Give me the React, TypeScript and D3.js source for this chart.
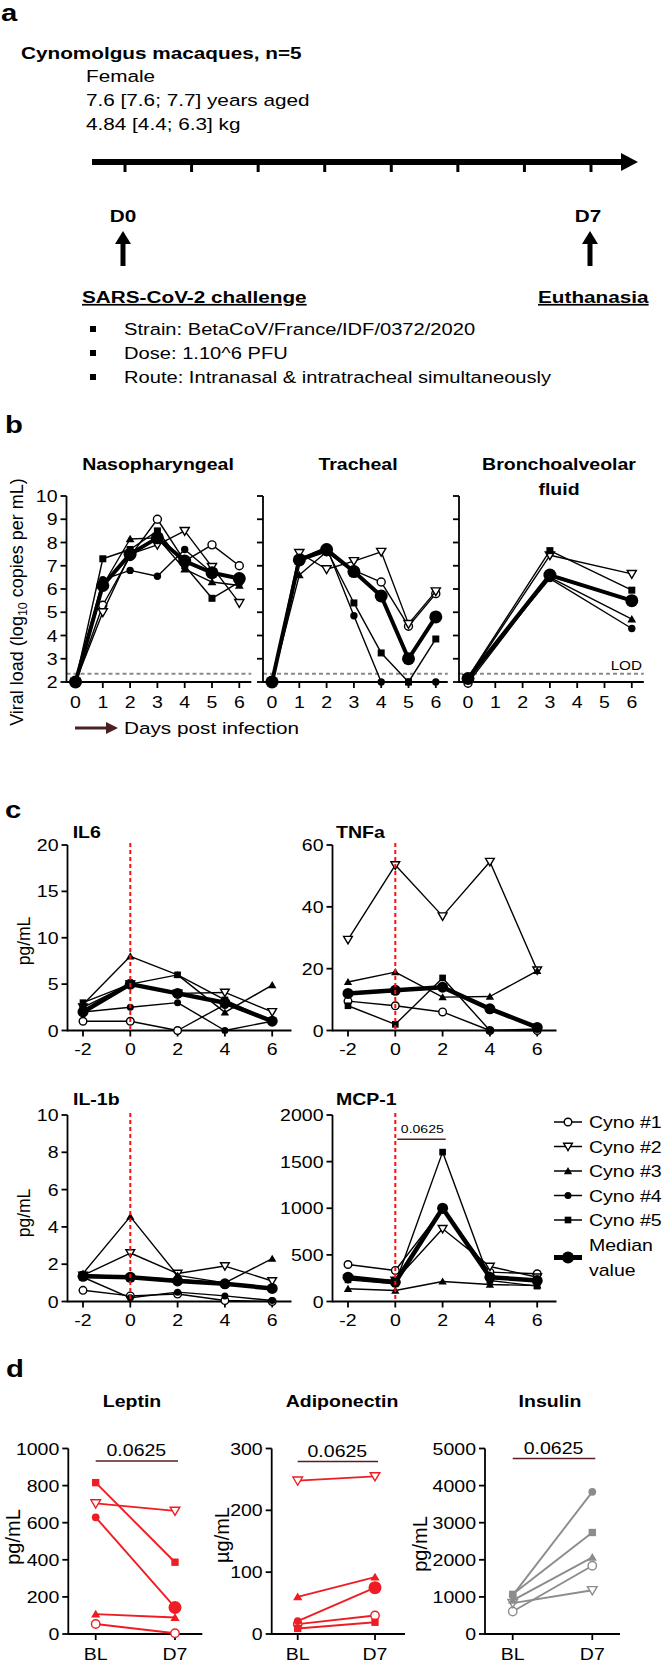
import React from 'react';
import * as d3 from 'd3';

const SX = 1.22;
const FF = "'Liberation Sans', Arial, Helvetica, sans-serif";
const RED = '#ee1d23';
const GRAY = '#8c8c8c';
const SIG = '#5a1e1e';

// ---------- Panel a ----------
const aTitle = 'Cynomolgus macaques, n=5';
const aInfo = ['Female', '7.6 [7.6; 7.7] years aged', '4.84 [4.4; 6.3] kg'];
const aTimelineDays = [0, 1, 2, 3, 4, 5, 6, 7];
const aBullets = ['Strain: BetaCoV/France/IDF/0372/2020', 'Dose: 1.10^6 PFU', 'Route: Intranasal & intratracheal simultaneously'];

// ---------- Panel b (viral load, log10 copies/mL) ----------
const vlDays = [0, 1, 2, 3, 4, 5, 6];
const balDays = [0, 3, 6];
const vlTicks = [2, 3, 4, 5, 6, 7, 8, 9, 10];
const nasoC1 = [2, 5.3, 7.4, 9.0, 7.2, 7.9, 7.0];
const nasoC2 = [2, 5.0, 7.5, 7.9, 8.5, 6.95, 5.4];
const nasoC3 = [2, 6.15, 8.15, 8.2, 6.85, 6.3, 6.15];
const nasoC4 = [2, 6.4, 6.8, 6.55, 7.7, 6.7, 6.45];
const nasoC5 = [2, 7.3, 7.7, 8.5, 7.0, 5.6, 6.3];
const nasoMed = [2, 6.15, 7.5, 8.2, 7.2, 6.7, 6.45];
const trC1 = [2, 7.2, 7.6, 6.8, 6.3, 4.4, 5.8];
const trC2 = [2, 7.55, 6.85, 7.2, 7.6, 4.5, 5.9];
const trC3 = [2, 6.6, 7.6, 6.7, 5.7, 3.0, 4.8];
const trC4 = [2, 7.3, 7.8, 4.85, 2, 2, 2];
const trC5 = [2, 7.2, 7.7, 5.4, 3.25, 2, 3.85];
const trMed = [2, 7.25, 7.7, 6.75, 5.7, 3.0, 4.8];
const balC1 = [1.95, 6.55, 5.5];
const balC2 = [2.15, 7.45, 6.65];
const balC3 = [2.15, 6.5, 4.7];
const balC4 = [2.2, 6.45, 4.3];
const balC5 = [2.2, 7.65, 5.95];
const balMed = [2.15, 6.6, 5.5];
const lodValue = 2.35;

// ---------- Panel c (cytokines, pg/mL) ----------
const cDays = [-2, 0, 2, 4, 6];
const il6C1 = [1, 1, 0, 2.8, 1];
const il6C2 = [2.5, 5, 4, 4.1, 2];
const il6C3 = [2.8, 8, 6, 1.95, 4.9];
const il6C4 = [2, 2.5, 3, 0, 1];
const il6C5 = [3, 5, 6, 3.3, 1];
const il6Med = [2, 5, 4, 3, 1];
const tnfC1 = [9.5, 8, 6, 0, 0];
const tnfC2 = [29.4, 53.5, 37, 54.6, 19.5];
const tnfC3 = [15.7, 18.9, 10.8, 11, 19.3];
const tnfC4 = [12, 13, 14, 7, 1];
const tnfC5 = [8, 2, 17, 0, 0.5];
const tnfMed = [12, 13, 14, 7, 1];
const il1C1 = [0.6, 0.3, 0.4, 0.05, 0];
const il1C2 = [1.4, 2.6, 1.5, 1.9, 1.1];
const il1C3 = [1.5, 4.55, 1.4, 1.0, 2.3];
const il1C4 = [1.3, 0.2, 0.5, 0.3, 0.05];
const il1C5 = [1.45, 1.3, 1.2, 0.95, 0.7];
const il1Med = [1.35, 1.3, 1.1, 0.95, 0.7];
const mcpC1 = [397, 333, 990, 315, 297];
const mcpC2 = [245, 225, 780, 375, 260];
const mcpC3 = [136, 118, 215, 182, 172];
const mcpC4 = [261, 207, 1010, 261, 225];
const mcpC5 = [232, 190, 1602, 225, 165];
const mcpMed = [261, 207, 1000, 261, 225];
const legendLabels = ['Cyno #1', 'Cyno #2', 'Cyno #3', 'Cyno #4', 'Cyno #5'];

// ---------- Panel d (BL vs D7) ----------
const dGroups = ['BL', 'D7'];
const lepC1 = [54, 4];
const lepC2 = [704, 664];
const lepC3 = [107, 89];
const lepC4 = [629, 143];
const lepC5 = [816, 387];
const adiC1 = [16, 30];
const adiC2 = [248, 255];
const adiC3 = [60, 92];
const adiC4 = [21, 75];
const adiC5 = [9, 19];
const insC1 = [607, 1839];
const insC2 = [833, 1178];
const insC3 = [906, 2066];
const insC4 = [1042, 3832];
const insC5 = [1069, 2736];
const pValue = '0.0625';

const syms = ['o', 'v', '^', '.', 's'];

function T({ x, y, s = 16, b = false, a = 'start', fill = '#000', u = false, children }: any) {
  return (
    <text transform={`translate(${x},${y}) scale(${SX},1)`} fontSize={s} fontWeight={b ? 700 : 400}
      textAnchor={a} fill={fill} style={u ? { textDecoration: 'underline' } : undefined}>{children}</text>
  );
}

function RT({ cx, cy, s = 18, children }: any) {
  return (
    <text transform={`translate(${cx + s * 0.33},${cy}) rotate(-90)`} fontSize={s} textAnchor="middle">{children}</text>
  );
}

function Mk({ t, x, y, k = 1, c = '#000', rM = 6.5 }: any) {
  const sw = 1.4;
  switch (t) {
    case 'o': return <circle cx={x} cy={y} r={4 * k} fill="#fff" stroke={c} strokeWidth={sw} />;
    case 'v': { const a = 4.6 * k; return <path d={`M${x - a},${y - a * 0.75}H${x + a}L${x},${y + a * 0.95}Z`} fill="#fff" stroke={c} strokeWidth={sw} />; }
    case '^': { const a = 4.4 * k; return <path d={`M${x - a},${y + a * 0.75}H${x + a}L${x},${y - a * 0.95}Z`} fill={c} />; }
    case '.': return <circle cx={x} cy={y} r={3.7 * k} fill={c} />;
    case 's': { const a = 3.5 * k; return <rect x={x - a} y={y - a} width={2 * a} height={2 * a} fill={c} />; }
    case 'M': return <circle cx={x} cy={y} r={rM} fill={c} />;
  }
  return null;
}

function Lines({ xs, sets, xS, yS, k = 1, rM = 6.5, lw = 1.4, lwM = 4, color = '#000', bigLast = 0 }: any) {
  const line = d3.line<number>().x((_: number, i: number) => xS(xs[i])).y((v: number) => yS(v));
  return (
    <g>
      {sets.map((vals: number[], j: number) => {
        const sym = j < 5 ? syms[j] : 'M';
        return (
          <g key={j}>
            <path d={line(vals) || ''} fill="none" stroke={color} strokeWidth={sym === 'M' ? lwM : lw} strokeLinejoin="round" />
            {vals.map((v, i) => (bigLast && sym === '.' && i === vals.length - 1)
              ? <Mk key={i} t="M" x={xS(xs[i])} y={yS(v)} c={color} rM={bigLast} />
              : <Mk key={i} t={sym} x={xS(xs[i])} y={yS(v)} k={k} c={color} rM={rM} />)}
          </g>
        );
      })}
    </g>
  );
}

function Axes({ ax, y0, yTop, xEnd, yS, yTicks, showY = true, xS, xTicks, xLabels, xlY, fs = 16 }: any) {
  return (
    <g>
      <g stroke="#000" strokeWidth={1.8}>
        <line x1={ax} x2={ax} y1={yTop} y2={y0 + 0.9} />
        <line x1={ax} x2={xEnd} y1={y0} y2={y0} />
        {yTicks.map((t: number) => <line key={t} x1={ax - 6} x2={ax} y1={yS(t)} y2={yS(t)} />)}
        {xTicks.map((t: any, i: number) => <line key={i} x1={xS(t)} x2={xS(t)} y1={y0} y2={y0 + 6} />)}
      </g>
      {showY && yTicks.map((t: number) => <T key={t} x={ax - 9} y={yS(t) + 6} s={fs} a="end">{t}</T>)}
      {xTicks.map((t: any, i: number) => <T key={i} x={xS(t)} y={xlY} s={fs} a="middle">{xLabels[i]}</T>)}
    </g>
  );
}

function PanelA() {
  const tx = d3.scaleLinear().domain([0, 7]).range([125, 591]);
  const ay = 162;
  const up = (x: number) => (
    <g>
      <line x1={x} x2={x} y1={242} y2={266} stroke="#000" strokeWidth={5} />
      <path d={`M${x - 8},${244}L${x},${231}L${x + 8},${244}Z`} fill="#000" />
    </g>
  );
  return (
    <g>
      <T x={1} y={21} s={24} b>a</T>
      <T x={21} y={59} s={17} b>{aTitle}</T>
      {aInfo.map((t, i) => <T key={i} x={86} y={82 + i * 24} s={17}>{t}</T>)}
      <line x1={92} x2={624} y1={ay} y2={ay} stroke="#000" strokeWidth={6} />
      <path d={`M621,${ay - 9}L638,${ay}L621,${ay + 9}Z`} fill="#000" />
      {aTimelineDays.map((d) => <line key={d} x1={tx(d)} x2={tx(d)} y1={ay} y2={ay + 10} stroke="#000" strokeWidth={3} />)}
      <T x={tx(0) - 2} y={222} s={17} b a="middle">D0</T>
      <T x={tx(7) - 3} y={222} s={17} b a="middle">D7</T>
      {up(tx(0) - 2)}
      {up(tx(7) - 1)}
      <T x={82} y={303} s={17} b u>SARS-CoV-2 challenge</T>
      <T x={538} y={303} s={17} b u>Euthanasia</T>
      {aBullets.map((t, i) => (
        <g key={i}>
          <rect x={90} y={335 + i * 24 - 9} width={6} height={6} fill="#000" />
          <T x={124} y={335 + i * 24} s={16.5}>{t}</T>
        </g>
      ))}
    </g>
  );
}

function PanelB() {
  const yS = d3.scaleLinear().domain([2, 10]).range([682, 496]);
  const charts = [
    { title: ['Nasopharyngeal'], tx: 158, ax: 66.5, x0: 75.5, xs: vlDays, sets: [nasoC1, nasoC2, nasoC3, nasoC4, nasoC5, nasoMed], showY: true },
    { title: ['Tracheal'], tx: 358, ax: 263, x0: 272, xs: vlDays, sets: [trC1, trC2, trC3, trC4, trC5, trMed], showY: false },
    { title: ['Bronchoalveolar', 'fluid'], tx: 559, ax: 459, x0: 468, xs: balDays, sets: [balC1, balC2, balC3, balC4, balC5, balMed], showY: false },
  ];
  return (
    <g>
      <T x={5} y={433} s={24} b>b</T>
      <text transform={`translate(${17 + 6},602) rotate(-90)`} fontSize={18} textAnchor="middle">
        Viral load (log<tspan fontSize={12.5} dy={4}>10</tspan><tspan dy={-4}> copies per mL)</tspan>
      </text>
      {charts.map((c, ci) => {
        const xS = d3.scaleLinear().domain([0, 6]).range([c.x0, c.x0 + 6 * 27.3]);
        const xEnd = xS(6) + 12;
        return (
          <g key={ci}>
            {c.title.map((t, i) => <T key={i} x={c.tx} y={470 + i * 25} s={16} b a="middle">{t}</T>)}
            <line x1={c.ax} x2={xEnd} y1={yS(lodValue)} y2={yS(lodValue)} stroke="#8a8a8a" strokeWidth={2} strokeDasharray="4,3" />
            <Axes ax={c.ax} y0={682} yTop={496} xEnd={xEnd} yS={yS} yTicks={vlTicks} showY={c.showY}
              xS={xS} xTicks={vlDays} xLabels={vlDays} xlY={708} fs={16} />
            <Lines xs={c.xs} sets={c.sets} xS={xS} yS={yS} k={1} rM={6.5} lw={1.4} lwM={4} />
          </g>
        );
      })}
      <T x={642} y={670} s={12.5} a="end">LOD</T>
      <line x1={75} x2={108} y1={728} y2={728} stroke="#4a2020" strokeWidth={3} />
      <path d="M106,722L118,728L106,734Z" fill="#4a2020" />
      <T x={124} y={734} s={17}>Days post infection</T>
    </g>
  );
}

function PanelC() {
  const charts = [
    { title: 'IL6', tX: 72.7, tY: 838, ax: 67.5, y0: 1030.5, yTop: 845, dom: [0, 20], ticks: [0, 5, 10, 15, 20], sets: [il6C1, il6C2, il6C3, il6C4, il6C5, il6Med], yl: 941 },
    { title: 'TNFa', tX: 336, tY: 838, ax: 332.5, y0: 1030.5, yTop: 845, dom: [0, 60], ticks: [0, 20, 40, 60], sets: [tnfC1, tnfC2, tnfC3, tnfC4, tnfC5, tnfMed], yl: 0 },
    { title: 'IL-1b', tX: 73, tY: 1105, ax: 67.5, y0: 1301.5, yTop: 1115, dom: [0, 10], ticks: [0, 2, 4, 6, 8, 10], sets: [il1C1, il1C2, il1C3, il1C4, il1C5, il1Med], yl: 1213 },
    { title: 'MCP-1', tX: 336, tY: 1105, ax: 332.5, y0: 1301.5, yTop: 1115, dom: [0, 2000], ticks: [0, 500, 1000, 1500, 2000], sets: [mcpC1, mcpC2, mcpC3, mcpC4, mcpC5, mcpMed], yl: 0 },
  ];
  return (
    <g>
      <T x={5} y={818} s={24} b>c</T>
      {charts.map((c, ci) => {
        const yS = d3.scaleLinear().domain(c.dom).range([c.y0, c.yTop]);
        const xS = d3.scaleLinear().domain([-2, 6]).range([c.ax + 15.5, c.ax + 15.5 + 4 * 47.3]);
        return (
          <g key={ci}>
            <T x={c.tX} y={c.tY} s={16} b>{c.title}</T>
            {c.yl ? <RT cx={24} cy={c.yl} s={17.5}>pg/mL</RT> : null}
            <Axes ax={c.ax} y0={c.y0} yTop={c.yTop} xEnd={c.ax + 224} yS={yS} yTicks={c.ticks}
              xS={xS} xTicks={cDays} xLabels={cDays} xlY={c.y0 + 24.5} fs={16} />
            <Lines xs={cDays} sets={c.sets} xS={xS} yS={yS} k={0.95} rM={5.5} lw={1.4} lwM={4.5} />
            <line x1={xS(0)} x2={xS(0)} y1={c.yTop - 2} y2={c.y0} stroke="#ff1010" strokeWidth={2} strokeDasharray="4,3" />
            {ci === 3 ? (
              <g>
                <line x1={397.3} x2={445.7} y1={1139.3} y2={1139.3} stroke={SIG} strokeWidth={1.5} />
                <T x={422.3} y={1133} s={11.5} a="middle">{pValue}</T>
              </g>
            ) : null}
          </g>
        );
      })}
      {legendLabels.map((l, i) => {
        const y = 1122 + i * 24.5;
        return (
          <g key={i}>
            <line x1={554} x2={582} y1={y} y2={y} stroke="#000" strokeWidth={1.5} />
            <Mk t={syms[i]} x={568} y={y} k={0.95} />
            <T x={589} y={y + 6} s={16}>{l}</T>
          </g>
        );
      })}
      <line x1={554} x2={582} y1={1257.5} y2={1257.5} stroke="#000" strokeWidth={5} />
      <Mk t="M" x={568} y={1257.5} rM={6} />
      <T x={589} y={1251} s={16}>Median</T>
      <T x={589} y={1276} s={16}>value</T>
    </g>
  );
}

function PanelD() {
  const y0 = 1634, yTop = 1448.5;
  const charts = [
    { title: 'Leptin', cx: 132, ax: 68.3, xs: [95.7, 175], xEnd: 202.3, dom: [0, 1000], ticks: [0, 200, 400, 600, 800, 1000], yl: 'pg/mL', ylx: 13.3, yly: 1537, color: RED, big: 6.5, sets: [lepC1, lepC2, lepC3, lepC4, lepC5], sigY: 1461 },
    { title: 'Adiponectin', cx: 342, ax: 271.7, xs: [297.7, 375], xEnd: 405, dom: [0, 300], ticks: [0, 100, 200, 300], yl: 'µg/mL', ylx: 222, yly: 1535, color: RED, big: 6.5, sets: [adiC1, adiC2, adiC3, adiC4, adiC5], sigY: 1461.5 },
    { title: 'Insulin', cx: 550, ax: 485, xs: [512.7, 592.3], xEnd: 620, dom: [0, 5000], ticks: [0, 1000, 2000, 3000, 4000, 5000], yl: 'pg/mL', ylx: 420, yly: 1544, color: GRAY, big: 0, sets: [insC1, insC2, insC3, insC4, insC5], sigY: 1458.5 },
  ];
  return (
    <g>
      <T x={6} y={1377} s={24} b>d</T>
      {charts.map((c, ci) => {
        const yS = d3.scaleLinear().domain(c.dom).range([y0, yTop]);
        const xS = d3.scalePoint<string>().domain(dGroups).range([c.xs[0], c.xs[1]]);
        return (
          <g key={ci}>
            <T x={c.cx} y={1407} s={16} b a="middle">{c.title}</T>
            <RT cx={c.ylx} cy={c.yly} s={20}>{c.yl}</RT>
            <Axes ax={c.ax} y0={y0} yTop={yTop} xEnd={c.xEnd} yS={yS} yTicks={c.ticks}
              xS={xS} xTicks={dGroups} xLabels={dGroups} xlY={1660} fs={16} />
            <line x1={c.xs[0]} x2={c.xs[1] + 3} y1={c.sigY} y2={c.sigY} stroke={SIG} strokeWidth={1.5} />
            <T x={(c.xs[0] + c.xs[1]) / 2 + 1} y={c.sigY - 5} s={16} a="middle">{pValue}</T>
            <Lines xs={dGroups} sets={c.sets} xS={xS} yS={yS} k={1.05} lw={1.9} color={c.color} bigLast={c.big} />
          </g>
        );
      })}
    </g>
  );
}

export default function App() {
  return (
    <svg width={668} height={1665} viewBox="0 0 668 1665" fontFamily={FF}
      style={{ display: 'block', position: 'absolute', left: 0, top: 0 }}>
      <rect width={668} height={1665} fill="#fff" />
      <PanelA />
      <PanelB />
      <PanelC />
      <PanelD />
    </svg>
  );
}
